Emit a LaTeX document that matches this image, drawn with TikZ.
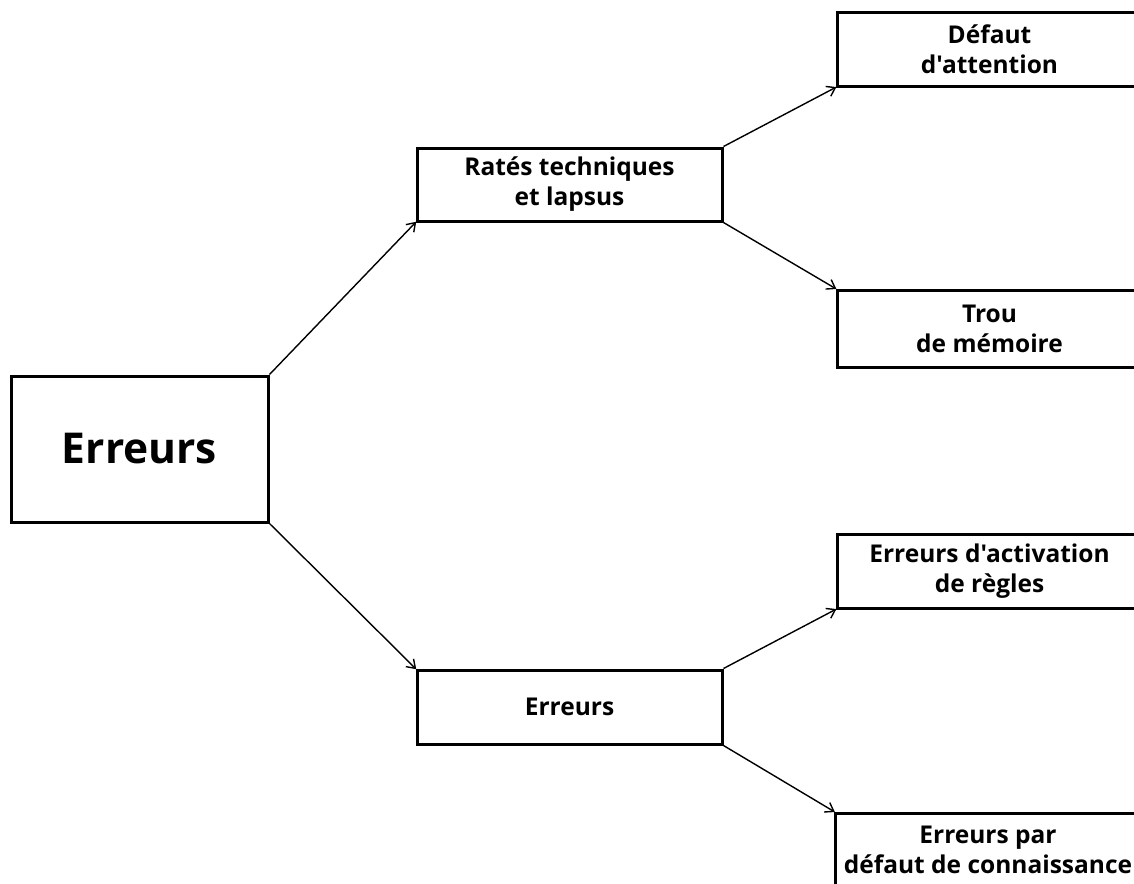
\documentclass[tikz,border=0pt]{standalone}
\usepackage{fontspec}
\newfontfamily\boxfont{Open Sans}
\usetikzlibrary{arrows.meta}
\tikzset{
  box/.style={draw=black, line width=3pt, fill=white, minimum width=305pt, align=center, inner sep=0pt,
    font=\boxfont\bfseries\fontsize{24.5pt}{30pt}\selectfont},
  bigbox/.style={draw=black, line width=3pt, fill=white, minimum width=257pt, minimum height=146pt, inner sep=0pt,
    font=\boxfont\bfseries\fontsize{42.5pt}{50pt}\selectfont},
  conn/.style={line width=1.4pt, -{Straight Barb[length=8pt,width=11pt,line width=1.4pt]}, shorten >=-1pt}
}
\begin{document}
\begin{tikzpicture}[x=1pt,y=-1pt]
\useasboundingbox (0,0) rectangle (1134,883);
\clip (0,0) rectangle (1134,883);
\fill[white] (0,0) rectangle (1134,883);
\node[bigbox] (root) at (139.5,449) {Erreurs};
\node[box, minimum height=73pt] (rates) at (569.5,184.5) {Ratés techniques\\et lapsus};
\node[box, minimum height=74pt] (err) at (569.5,707) {Erreurs};
\node[box, minimum height=73pt] (defaut) at (989.5,49.5) {Défaut\\d'attention};
\node[box, minimum height=77pt] (trou) at (989.5,328.5) {Trou\\de mémoire};
\node[box, minimum height=74pt] (activ) at (989.5,571) {Erreurs d'activation\\de règles};
\node[box, minimum height=74pt] (conn) at (988,850) {Erreurs par\\défaut de connaissance};
\draw[conn] (root.north east) -- (rates.south west);
\draw[conn] (root.south east) -- (err.north west);
\draw[conn] (rates.north east) -- (defaut.south west);
\draw[conn] (rates.south east) -- (trou.north west);
\draw[conn] (err.north east) -- (activ.south west);
\draw[conn] (err.south east) -- (conn.north west);
\end{tikzpicture}
\end{document}
